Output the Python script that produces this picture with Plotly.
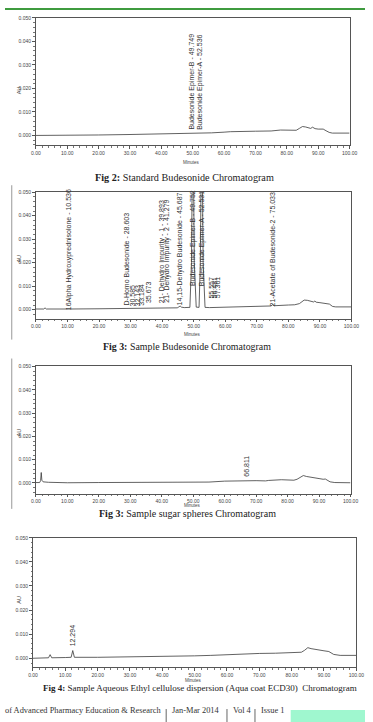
import plotly.graph_objects as go

W, H = 373, 722

# ---------------- data ----------------
# Panel 1: Standard Budesonide
t_std = [0, 5, 10, 20, 30, 40, 45, 48, 49.75, 51, 52.5, 54, 56, 60, 62, 70, 75, 78, 80, 82, 83, 84, 85, 86, 87, 87.6, 88.2, 89, 90, 91, 91.6, 92.5, 93.5, 94.5, 97, 100]
au_std = [0.0000, 0.0000, 0.0001, 0.0002, 0.0004, 0.0006, 0.0007, 0.0008, 0.0010, 0.0009, 0.0010, 0.0009, 0.0011, 0.0014, 0.0016, 0.0018, 0.0019, 0.0023, 0.0023, 0.0020, 0.0022, 0.0030, 0.0038, 0.0036, 0.0031, 0.0030, 0.0035, 0.0029, 0.0027, 0.0026, 0.0027, 0.0020, 0.0013, 0.0010, 0.0010, 0.0010]
lab_std_t = [49.749, 52.536]
lab_std_y = [0.0016, 0.0016]
lab_std_txt = ["Budesonide Epimer-B - 49.749", "Budesonide Epimer-A - 52.536"]

# Panel 2: Sample Budesonide
t_smp = [0, 2.5, 2.9, 3.3, 10, 10.5, 11, 20, 28.6, 30, 35, 39.9, 41.3, 44.8, 45.3, 45.7, 46.1, 47, 48.8, 49.3, 49.75, 50.2, 50.8, 51.7, 52.1, 52.55, 53.0, 53.6, 55, 57, 60, 70, 74.5, 75.0, 75.5, 80, 82, 83.5, 85, 86, 87, 88, 88.4, 88.8, 90, 92, 93, 94, 95, 100]
au_smp = [0.0003, 0.0003, 0.0008, 0.0003, 0.0003, 0.0004, 0.0003, 0.0004, 0.0005, 0.0005, 0.0006, 0.0007, 0.0007, 0.0008, 0.0012, 0.0016, 0.0011, 0.0009, 0.0010, 0.0200, 0.0900, 0.0200, 0.0011, 0.0010, 0.0200, 0.0850, 0.0200, 0.0010, 0.0009, 0.0010, 0.0011, 0.0015, 0.0016, 0.0021, 0.0017, 0.0020, 0.0021, 0.0026, 0.0041, 0.0040, 0.0035, 0.0033, 0.0037, 0.0032, 0.0030, 0.0027, 0.0024, 0.0014, 0.0012, 0.0012]
lab_smp_t = [10.536, 28.603, 30.585, 32.143, 33.184, 35.673, 39.893, 41.279, 45.687, 49.752, 52.531, 55.557, 56.481, 57.361, 75.033]
lab_smp_y = [-0.0012, 0.0008, 0.0007, 0.0007, 0.0007, 0.0022, 0.0020, 0.0020, 0.0008, 0.0092, 0.0092, 0.0040, 0.0040, 0.0040, 0.0006]
lab_smp_txt = ["16Alpha Hydroxyprednisolone - 10.536", "D-Homo Budesonide - 28.603", "30.585", "32.143", "33.184", "35.673",
               "21- Dehydro Impurity - 1 - 39.893", "21- Dehydro Impurity - 2 - 41.279", "14,15-Dehydro Budesonide - 45.687",
               "Budesonide Epimer-B - 49.752", "Budesonide Epimer-A - 52.531", "55.557", "56.481", "57.361",
               "21-Acetate of Budesonide-2 - 75.033"]

# Panel 3: Sample sugar spheres
t_sug = [0, 1.2, 1.5, 1.7, 1.9, 2.3, 4, 10, 20, 30, 40, 50, 55, 60, 65, 66.8, 70, 73, 74, 78, 82, 83, 85, 86, 88, 90, 91.3, 92, 93.5, 95, 100]
au_sug = [0.0002, 0.0002, 0.0010, 0.0045, 0.0012, 0.0005, 0.0003, 0.0001, 0.0002, 0.0002, 0.0002, 0.0003, 0.0004, 0.0008, 0.0010, 0.0011, 0.0010, 0.0009, 0.0011, 0.0014, 0.0012, 0.0016, 0.0032, 0.0028, 0.0022, 0.0019, 0.0016, 0.0017, 0.0005, 0.0002, 0.0001]
lab_sug_t = [66.811]
lab_sug_y = [0.0017]
lab_sug_txt = ["66.811"]

# Panel 4: Aqueous Ethyl cellulose dispersion
t_aq = [0, 4.8, 5.3, 5.8, 10, 11.8, 12.3, 12.8, 20, 30, 40, 50, 55, 60, 65, 70, 75, 80, 83, 84, 85, 86, 88, 90, 91.5, 93, 95, 100]
au_aq = [0.0000, 0.0002, 0.0015, 0.0002, 0.0003, 0.0004, 0.0032, 0.0004, 0.0004, 0.0005, 0.0007, 0.0010, 0.0012, 0.0015, 0.0018, 0.0020, 0.0021, 0.0025, 0.0025, 0.0033, 0.0044, 0.0040, 0.0034, 0.0031, 0.0028, 0.0016, 0.0012, 0.0012]
lab_aq_t = [12.294]
lab_aq_y = [0.0040]
lab_aq_txt = ["12.294"]

captions = ["<b>Fig 2:</b> Standard Budesonide Chromatogram",
            "<b>Fig 3:</b> Sample Budesonide Chromatogram",
            "<b>Fig 3:</b> Sample sugar spheres Chromatogram",
            "<b>Fig 4:</b> Sample Aqueous Ethyl cellulose dispersion (Aqua coat ECD30)  Chromatogram"]
footer_parts = ["of Advanced Pharmacy Education & Research", "Jan-Mar 2014", "Vol 4", "Issue 1"]

x_ticks = [0, 10, 20, 30, 40, 50, 60, 70, 80, 90, 100]
y_ticks = [0.0, 0.01, 0.02, 0.03, 0.04, 0.05]

# ---------------- layout helpers ----------------
def px(x):
    return x / W

def py(y):
    return 1 - y / H

panels = [
    dict(l=32, r=357, top=15, zero=133, bot=143, cx=186, cy=169, cs=10.2, mo=14),
    dict(l=32, r=359, top=190, zero=308, bot=317, cx=189, cy=345, cs=9.9, mo=16),
    dict(l=32, r=358, top=365, zero=482, bot=493, cx=189, cy=519.5, cs=10.0, mo=15.3),
    dict(l=29, r=364, top=537, zero=658, bot=667, cx=202, cy=694, cs=9.0, mo=16.5),
]
series = [(t_std, au_std, lab_std_t, lab_std_y, lab_std_txt),
          (t_smp, au_smp, lab_smp_t, lab_smp_y, lab_smp_txt),
          (t_sug, au_sug, lab_sug_t, lab_sug_y, lab_sug_txt),
          (t_aq, au_aq, lab_aq_t, lab_aq_y, lab_aq_txt)]

fig = go.Figure()
annotations = []
shapes = []
tickfont = dict(family="Liberation Sans", size=5, color="#444")
labfont = dict(family="Liberation Sans", size=7, color="#333")

layout_axes = {}
for i, (p, s) in enumerate(zip(panels, series)):
    n = i + 1
    xa = "x" if n == 1 else f"x{n}"
    ya = "y" if n == 1 else f"y{n}"
    t, a, lt, ly, ltxt = s
    fig.add_trace(go.Scatter(x=t, y=a, mode="lines", line=dict(color="#3a3a3a", width=0.8),
                             xaxis=xa, yaxis=ya, showlegend=False, hoverinfo="skip"))
    per = (p["zero"] - p["top"]) / 0.05
    ymin = -(p["bot"] - p["zero"]) / per
    xkey = "xaxis" if n == 1 else f"xaxis{n}"
    ykey = "yaxis" if n == 1 else f"yaxis{n}"
    layout_axes[xkey] = dict(domain=[px(p["l"]), px(p["r"])], anchor=ya, range=[0, 100],
                             tickvals=x_ticks, ticktext=[f"{v:.2f}" for v in x_ticks],
                             ticks="outside", ticklen=2.5, tickwidth=0.6, tickcolor="#555",
                             minor=dict(dtick=2, ticks="outside", ticklen=1.5, tickwidth=0.5, tickcolor="#777"),
                             showline=True, linecolor="#555", linewidth=0.8, mirror=True,
                             showgrid=False, zeroline=False, tickfont=tickfont, fixedrange=True)
    layout_axes[ykey] = dict(domain=[py(p["bot"]), py(p["top"])], anchor=xa, range=[ymin, 0.05],
                             tickvals=y_ticks, ticktext=[f"{v:.3f}" for v in y_ticks],
                             ticks="outside", ticklen=3, tickwidth=0.6, tickcolor="#555",
                             minor=dict(dtick=0.002, ticks="outside", ticklen=1.5, tickwidth=0.5, tickcolor="#777"),
                             showline=True, linecolor="#555", linewidth=0.8, mirror=True,
                             showgrid=False, zeroline=False, tickfont=tickfont, fixedrange=True)
    for xv, yv, txt in zip(lt, ly, ltxt):
        annotations.append(dict(x=xv, y=yv, xref=xa, yref=ya, text=txt, showarrow=False,
                                textangle=-90, xanchor="center", yanchor="bottom", font=labfont))
    annotations.append(dict(x=px(9), y=py((p["top"] + p["zero"]) / 2 + 8), xref="paper", yref="paper",
                            text="AU", showarrow=False, textangle=-90,
                            font=dict(family="Liberation Sans", size=5.5, color="#444")))
    annotations.append(dict(x=px((p["l"] + p["r"]) / 2 - 1), y=py(p["bot"] + p["mo"]), xref="paper", yref="paper",
                            text="Minutes", showarrow=False, borderpad=0,
                            font=dict(family="Liberation Sans", size=4.5, color="#444")))
    annotations.append(dict(x=px(p["cx"]), y=py(p["cy"]), xref="paper", yref="paper", text=captions[i],
                            showarrow=False, borderpad=0,
                            font=dict(family="Liberation Serif", size=p["cs"], color="#222")))

# top green rule
shapes.append(dict(type="line", xref="paper", yref="paper", x0=0, x1=1, y0=py(6), y1=py(6),
                   line=dict(color="#3f9b3f", width=2)))
# page column border (scan)
shapes.append(dict(type="line", xref="paper", yref="paper", x0=px(7), x1=px(7), y0=py(183), y1=py(338),
                   line=dict(color="#999", width=1)))
shapes.append(dict(type="line", xref="paper", yref="paper", x0=px(7), x1=px(7), y0=py(357), y1=py(508),
                   line=dict(color="#999", width=1)))
# footer
footfont = dict(family="Liberation Serif", size=8.4, color="#333")
for txt, fx in zip(footer_parts, [-1, 172, 235, 264]):
    annotations.append(dict(x=px(fx), y=py(716), xref="paper", yref="paper", text=txt, showarrow=False,
                            xanchor="left", borderpad=0, font=footfont))
for bx in [167, 230, 259]:
    shapes.append(dict(type="line", xref="paper", yref="paper", x0=px(bx), x1=px(bx), y0=py(709), y1=py(722),
                       line=dict(color="#666", width=1)))
shapes.append(dict(type="rect", xref="paper", yref="paper", x0=px(296), x1=1, y0=0, y1=py(710),
                   line=dict(width=0), fillcolor="#9ff7cf"))

fig.update_layout(width=W, height=H, margin=dict(l=0, r=0, t=0, b=0), paper_bgcolor="white",
                  plot_bgcolor="white", annotations=annotations, shapes=shapes, **layout_axes)
fig.write_html("out.html")
